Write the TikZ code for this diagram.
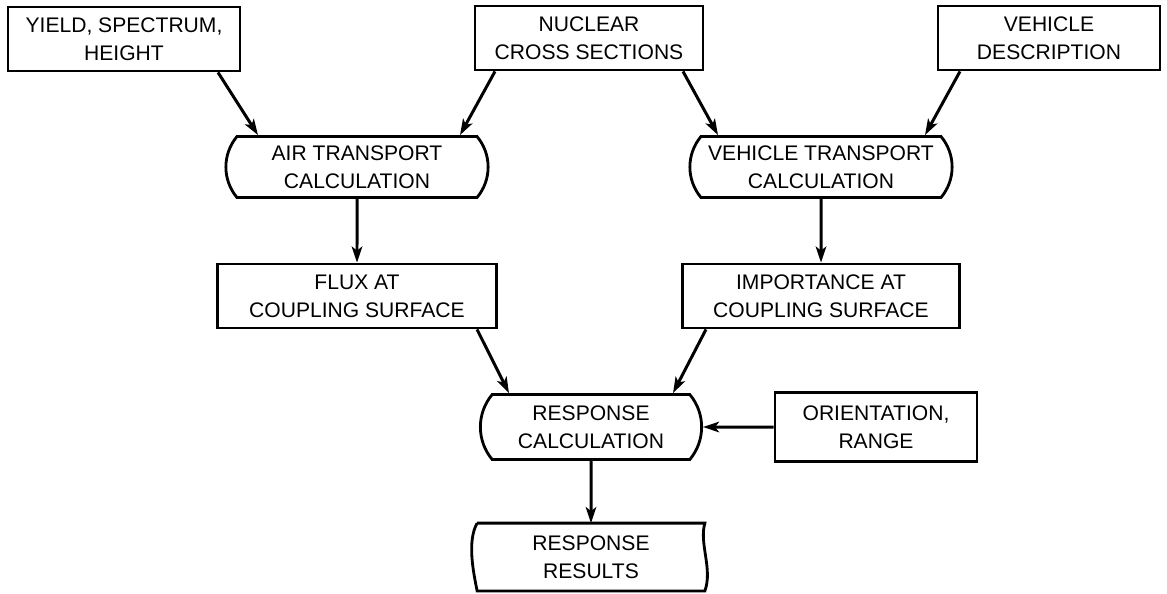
\documentclass[tikz,border=0pt]{standalone}
\usepackage{fontspec}
\setmainfont{Liberation Sans}
\usetikzlibrary{positioning,arrows.meta,calc,shapes.misc}

\begin{document}
\begin{tikzpicture}[x=0.02cm,y=-0.02cm,
  >={Stealth[length=3.2mm,width=2.1mm,inset=0.8mm]},
  every node/.style={font=\fontsize{12}{16}\selectfont,align=center,line width=1.6pt},
  inbox/.style={draw,rectangle,minimum height=1.28cm},
  calcbox/.style={draw,rounded rectangle,rounded rectangle arc length=80,minimum height=1.22cm},
  link/.style={->,line width=1.7pt}]
  \useasboundingbox (0,0) rectangle (1167,593);
  % inputs along the top
  \node[inbox,minimum width=4.64cm] (yield) at (124,39) {YIELD, SPECTRUM,\\HEIGHT};
  \node[inbox,minimum width=4.56cm] (nuclear) at (589,38) {NUCLEAR\\CROSS SECTIONS};
  \node[inbox,minimum width=4.44cm] (vehicle) at (1049,38) {VEHICLE\\DESCRIPTION};
  % the two transport runs
  \node[calcbox,minimum width=5.48cm] (air) at (357,167) {AIR TRANSPORT\\CALCULATION};
  \node[calcbox,minimum width=5.48cm] (vtrans) at (821,167) {VEHICLE TRANSPORT\\CALCULATION};
  \node[inbox,minimum width=5.58cm] (flux) at (357,296) {FLUX AT\\COUPLING SURFACE};
  \node[inbox,minimum width=5.54cm] (importance) at (821,296) {IMPORTANCE AT\\COUPLING SURFACE};
  % coupling and output
  \node[calcbox,minimum width=4.66cm,minimum height=1.3cm] (response) at (591,427) {RESPONSE\\CALCULATION};
  \node[inbox,minimum width=4.04cm,minimum height=1.38cm] (orient) at (876,427) {ORIENTATION,\\RANGE};
  \node[minimum width=4.5cm,minimum height=1.3cm] (results) at (591,557) {RESPONSE\\RESULTS};
  \draw[line width=1.6pt] (results.north west) -- (results.north east)
    .. controls ($(results.north east)+(-6,20)$) and ($(results.south east)+(8,-22)$) .. (results.south east)
    -- (results.south west)
    .. controls ($(results.south west)+(-4,-20)$) and ($(results.north west)+(-10,18)$) .. (results.north west);
  % connectors
  \draw[link] ($(yield.south)+(94,0)$) -- ($(air.north)+(-99,0)$);
  \draw[link] ($(nuclear.south)+(-94,0)$) -- ($(air.north)+(103,0)$);
  \draw[link] ($(nuclear.south)+(94,0)$) -- ($(vtrans.north)+(-103,0)$);
  \draw[link] ($(vehicle.south)+(-89,0)$) -- ($(vtrans.north)+(104,0)$);
  \draw[link] (air) -- (flux);
  \draw[link] (vtrans) -- (importance);
  \draw[link] ($(flux.south)+(120,0)$) -- ($(response.north)+(-82,0)$);
  \draw[link] ($(importance.south)+(-115,0)$) -- ($(response.north)+(82,0)$);
  \draw[link] (orient) -- (response);
  \draw[link] (response) -- (results);
\end{tikzpicture}
\end{document}
